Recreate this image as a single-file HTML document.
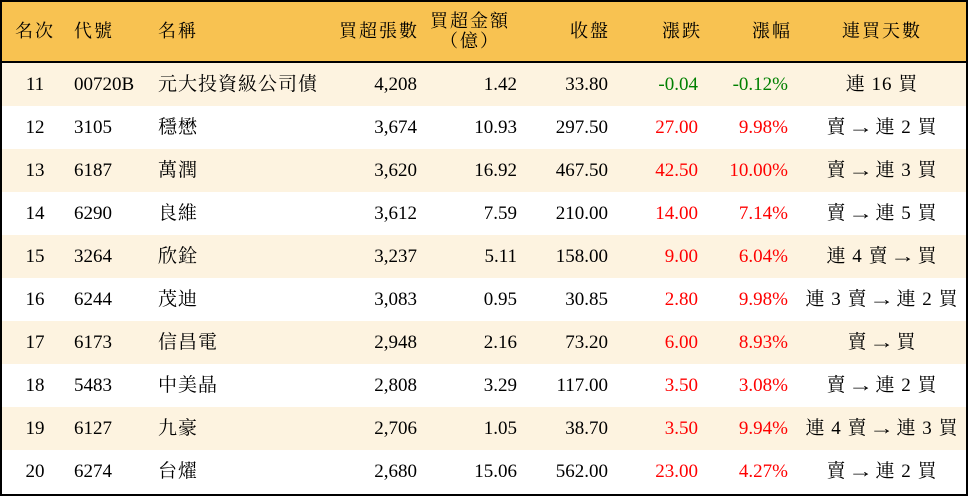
<!DOCTYPE html>
<html><head><meta charset="utf-8"><style>
body{margin:0;background:#fff;}
.w{position:absolute;left:0;top:0;width:964px;height:492px;border:2px solid #000;overflow:hidden;font-family:"Liberation Serif","Noto Serif CJK SC","Noto Serif CJK TC",serif;font-size:19px;color:#000;}
.h{position:absolute;left:0;top:0;width:964px;height:59px;background:#f8c251;border-bottom:2px solid #000;font-size:18px;}
.r{position:absolute;left:0;width:964px;height:43px;}
.o{background:#fdf3e0;}
.c{position:absolute;top:0;line-height:43px;white-space:nowrap;}
.h .c{line-height:59px;letter-spacing:2px;}
.red{color:#f00}.grn{color:#008000}
.a{display:inline-block;transform:scaleX(1.4);font-family:"Liberation Serif",serif;font-size:18px;margin:0 5px;}
</style></head><body><div class="w">
<div class="h">
<div class="c" style="left:0;width:66px;text-align:center">名次</div>
<div class="c" style="left:72px">代號</div>
<div class="c" style="left:156px">名稱</div>
<div class="c" style="left:300px;width:117px;text-align:right">買超張數</div>
<div class="c" style="left:420px;width:96px;text-align:center;line-height:20px;top:9px">買超金額<br>（億）</div>
<div class="c" style="left:520px;width:88px;text-align:right">收盤</div>
<div class="c" style="left:610px;width:90px;text-align:right">漲跌</div>
<div class="c" style="left:700px;width:90px;text-align:right">漲幅</div>
<div class="c" style="left:794px;width:172px;text-align:center">連買天數</div>
</div>
<div id="rows"></div>
</div>
<script>
var d=[["11","00720B","元大投資級公司債","4,208","1.42","33.80","-0.04","-0.12%","連 16 買",1],
["12","3105","穩懋","3,674","10.93","297.50","27.00","9.98%","賣 → 連 2 買",0],
["13","6187","萬潤","3,620","16.92","467.50","42.50","10.00%","賣 → 連 3 買",0],
["14","6290","良維","3,612","7.59","210.00","14.00","7.14%","賣 → 連 5 買",0],
["15","3264","欣銓","3,237","5.11","158.00","9.00","6.04%","連 4 賣 → 買",0],
["16","6244","茂迪","3,083","0.95","30.85","2.80","9.98%","連 3 賣 → 連 2 買",0],
["17","6173","信昌電","2,948","2.16","73.20","6.00","8.93%","賣 → 買",0],
["18","5483","中美晶","2,808","3.29","117.00","3.50","3.08%","賣 → 連 2 買",0],
["19","6127","九豪","2,706","1.05","38.70","3.50","9.94%","連 4 賣 → 連 3 買",0],
["20","6274","台燿","2,680","15.06","562.00","23.00","4.27%","賣 → 連 2 買",0]];
var h="";
d.forEach(function(r,i){var cl=r[9]?"grn":"red";
var t=r[8].replace(" → ",'<span class="a">→</span>');
h+='<div class="r'+(i%2==0?' o':'')+'" style="top:'+(61+i*43)+'px">'+
'<div class="c" style="left:0;width:66px;text-align:center">'+r[0]+'</div>'+
'<div class="c" style="left:72px">'+r[1]+'</div>'+
'<div class="c" style="left:156px;letter-spacing:1px">'+r[2]+'</div>'+
'<div class="c" style="left:300px;width:115px;text-align:right">'+r[3]+'</div>'+
'<div class="c" style="left:420px;width:95px;text-align:right">'+r[4]+'</div>'+
'<div class="c" style="left:520px;width:86px;text-align:right">'+r[5]+'</div>'+
'<div class="c '+cl+'" style="left:610px;width:86px;text-align:right">'+r[6]+'</div>'+
'<div class="c '+cl+'" style="left:700px;width:86px;text-align:right">'+r[7]+'</div>'+
'<div class="c" style="left:794px;width:172px;text-align:center;letter-spacing:1px">'+t+'</div></div>';});
document.getElementById("rows").innerHTML=h;
</script>
</body></html>
